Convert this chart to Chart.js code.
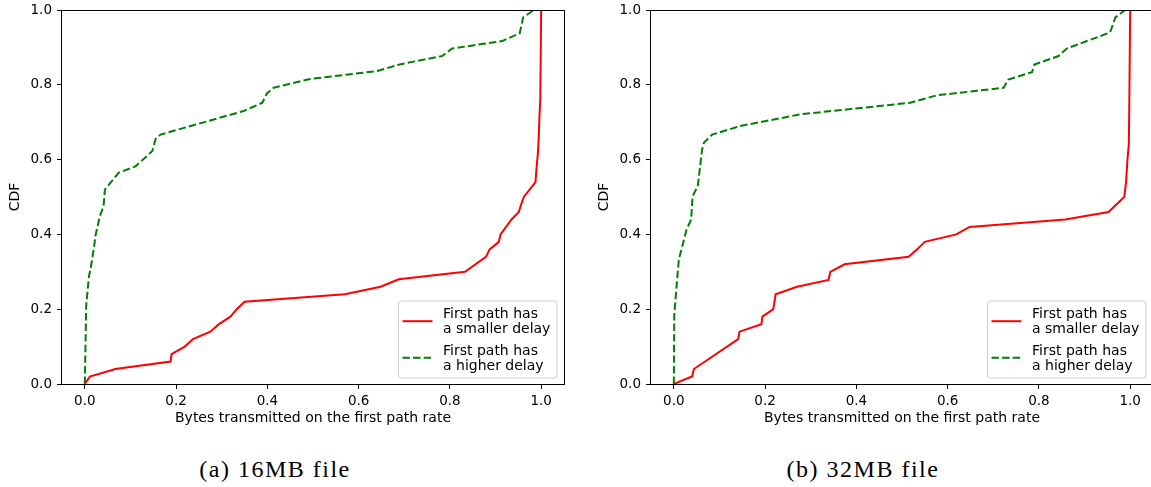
<!DOCTYPE html>
<html>
<head>
<meta charset="utf-8">
<script src="https://cdn.jsdelivr.net/npm/chart.js@4.4.0/dist/chart.umd.min.js"></script>
<style>
  body { margin: 0; background: #fff; width: 1151px; height: 487px; overflow: hidden; position: relative; }
  .panel { position: absolute; top: 0; width: 575px; height: 440px; }
  .caption {
    position: absolute; top: 457px; width: 300px; text-align: center;
    font-family: "Liberation Serif", serif; font-size: 24px; line-height: 24px;
    letter-spacing: 1.5px; color: #000;
  }
</style>
</head>
<body>
<div class="panel" style="left:0px"><canvas id="chart16" width="575" height="440"></canvas></div>
<div class="panel" style="left:589px"><canvas id="chart32" width="575" height="440"></canvas></div>
<div class="caption" style="left:125px">(a) 16MB file</div>
<div class="caption" style="left:713px">(b) 32MB file</div>

<script>
// Tick positions
const xTicks = [0, 0.2, 0.4, 0.6, 0.8, 1.0];
const yTicks = [0, 0.2, 0.4, 0.6, 0.8, 1.0];

// Series labels
const labelSmaller = ['First path has', 'a smaller delay'];
const labelHigher = ['First path has', 'a higher delay'];

// 16MB file: first path has a smaller delay
const small16X = [0, 0.011, 0.067, 0.188, 0.19, 0.219, 0.237, 0.275, 0.294, 0.319, 0.333, 0.35, 0.57, 0.648, 0.688, 0.833, 0.879, 0.887, 0.907, 0.911, 0.935, 0.951, 0.956, 0.962, 0.9875, 0.99, 0.993, 0.995, 0.996, 0.998, 1.0];
const small16Y = [0, 0.02, 0.04, 0.06, 0.08, 0.10, 0.12, 0.14, 0.16, 0.18, 0.20, 0.22, 0.24, 0.26, 0.28, 0.30, 0.34, 0.36, 0.38, 0.40, 0.44, 0.46, 0.48, 0.50, 0.54, 0.58, 0.62, 0.67, 0.71, 0.76, 1.0];

// 16MB file: first path has a higher delay
const high16X = [0, 0.003, 0.009, 0.013, 0.021, 0.023, 0.033, 0.041, 0.044, 0.0745, 0.111, 0.148, 0.155, 0.166, 0.348, 0.389, 0.399, 0.414, 0.491, 0.641, 0.692, 0.783, 0.805, 0.9145, 0.953, 0.9605, 0.984];
const high16Y = [0, 0.208, 0.288, 0.31, 0.373, 0.395, 0.449, 0.475, 0.52, 0.565, 0.582, 0.623, 0.655, 0.667, 0.73, 0.752, 0.777, 0.792, 0.815, 0.837, 0.855, 0.877, 0.897, 0.917, 0.938, 0.98, 1.0];

// 32MB file: first path has a smaller delay
const small32X = [0, 0.040, 0.044, 0.141, 0.144, 0.192, 0.194, 0.218, 0.223, 0.270, 0.339, 0.343, 0.374, 0.5146, 0.533, 0.55, 0.619, 0.648, 0.8577, 0.9525, 0.987, 0.991, 0.994, 0.997, 0.998, 1.0];
const small32Y = [0, 0.02, 0.04, 0.12, 0.14, 0.16, 0.18, 0.20, 0.24, 0.26, 0.278, 0.30, 0.32, 0.34, 0.36, 0.38, 0.40, 0.42, 0.44, 0.46, 0.50, 0.54, 0.60, 0.64, 0.74, 1.0];

// 32MB file: first path has a higher delay
const high32X = [0, 0.001, 0.006, 0.011, 0.028, 0.038, 0.041, 0.0525, 0.062, 0.066, 0.084, 0.146, 0.277, 0.518, 0.577, 0.7226, 0.733, 0.785, 0.79, 0.843, 0.861, 0.956, 0.9675, 0.989];
const high32Y = [0, 0.185, 0.261, 0.333, 0.413, 0.44, 0.502, 0.529, 0.627, 0.645, 0.667, 0.69, 0.721, 0.752, 0.772, 0.792, 0.814, 0.834, 0.854, 0.877, 0.897, 0.94, 0.98, 1.0];

Chart.defaults.font.family = 'DejaVu Sans';
Chart.defaults.font.size = 14;
Chart.defaults.color = '#000';

const zip = (xs, ys) => xs.map((x, i) => ({ x: x, y: ys[i] }));

// box around the plotting area
const frame = {
  id: 'frame',
  afterDatasetsDraw(chart) {
    const { ctx, chartArea: a } = chart;
    ctx.save();
    ctx.strokeStyle = '#000';
    ctx.lineWidth = 1;
    ctx.strokeRect(a.left - 0.5, a.top + 0.5, a.right - a.left + 1, a.bottom - a.top);
    ctx.restore();
  }
};

// matplotlib style legend in the lower right corner
const cornerLegend = {
  id: 'cornerLegend',
  afterDraw(chart) {
    const { ctx, chartArea: a } = chart;
    const w = 158.5, h = 77;
    const bx = a.right - 7.5 - w, by = a.bottom - 6.5 - h;
    ctx.save();
    ctx.beginPath();
    ctx.roundRect(bx + 0.5, by + 0.5, w, h, 3);
    ctx.fillStyle = 'rgba(255,255,255,0.8)';
    ctx.fill();
    ctx.strokeStyle = '#cccccc';
    ctx.lineWidth = 1;
    ctx.stroke();

    ctx.font = '14px "DejaVu Sans"';
    ctx.fillStyle = '#000';
    ctx.textBaseline = 'alphabetic';
    chart.data.datasets.forEach((ds, i) => {
      const top = by + i * 36.5;
      ctx.beginPath();
      ctx.strokeStyle = ds.borderColor;
      ctx.lineWidth = ds.borderWidth;
      ctx.setLineDash(ds.borderDash || []);
      ctx.moveTo(bx + 4.5, top + 20.7);
      ctx.lineTo(bx + 34.5, top + 20.7);
      ctx.stroke();
      ctx.setLineDash([]);
      ds.label.forEach((line, j) => {
        ctx.fillText(line, bx + 45, top + 17.5 + j * 15);
      });
    });
    ctx.restore();
  }
};

// keep the plot area fixed: no extra room for half-labels at the ends
function noEdgePadding(s) {
  s.paddingTop = 0;
  s.paddingBottom = 0;
  s.paddingLeft = 0;
  s.paddingRight = 0;
}

function makeChart(id, smallX, smallY, highX, highY) {
  new Chart(document.getElementById(id), {
    type: 'line',
    data: {
      datasets: [
        {
          label: labelSmaller,
          data: zip(smallX, smallY),
          borderColor: '#ff0000',
          borderWidth: 2,
          pointRadius: 0,
          tension: 0,
          fill: false
        },
        {
          label: labelHigher,
          data: zip(highX, highY),
          borderColor: '#008000',
          borderWidth: 2,
          borderDash: [7.4, 3.2],
          pointRadius: 0,
          tension: 0,
          fill: false
        }
      ]
    },
    options: {
      responsive: false,
      animation: false,
      devicePixelRatio: 1,
      layout: { padding: { top: 10, right: 11, left: 0, bottom: 0 } },
      plugins: { legend: { display: false }, tooltip: { enabled: false } },
      scales: {
        x: {
          type: 'linear',
          min: -0.05,
          max: 1.05,
          afterBuildTicks: s => { s.ticks = xTicks.map(v => ({ value: v })); },
          afterFit: s => { s.height = 56; noEdgePadding(s); },
          grid: { display: true, drawOnChartArea: false, drawTicks: true, tickLength: 5, color: '#000', lineWidth: 1 },
          border: { display: false },
          ticks: { padding: 4, maxRotation: 0, autoSkip: false, font: { size: 13.5 }, callback: v => v.toFixed(1) },
          title: { display: true, text: 'Bytes transmitted on the first path rate', padding: { top: 0, bottom: 13 } }
        },
        y: {
          type: 'linear',
          min: 0,
          max: 1,
          afterBuildTicks: s => { s.ticks = yTicks.map(v => ({ value: v })); },
          afterFit: s => { s.width = 62; noEdgePadding(s); },
          grid: { display: true, drawOnChartArea: false, drawTicks: true, tickLength: 5, color: '#000', lineWidth: 1 },
          border: { display: false },
          ticks: { padding: 5, font: { size: 13.5 }, callback: v => v.toFixed(1) },
          title: { display: true, text: 'CDF', padding: { top: 7, bottom: 0 } }
        }
      }
    },
    plugins: [frame, cornerLegend]
  });
}

makeChart('chart16', small16X, small16Y, high16X, high16Y);
makeChart('chart32', small32X, small32Y, high32X, high32Y);
</script>
</body>
</html>
